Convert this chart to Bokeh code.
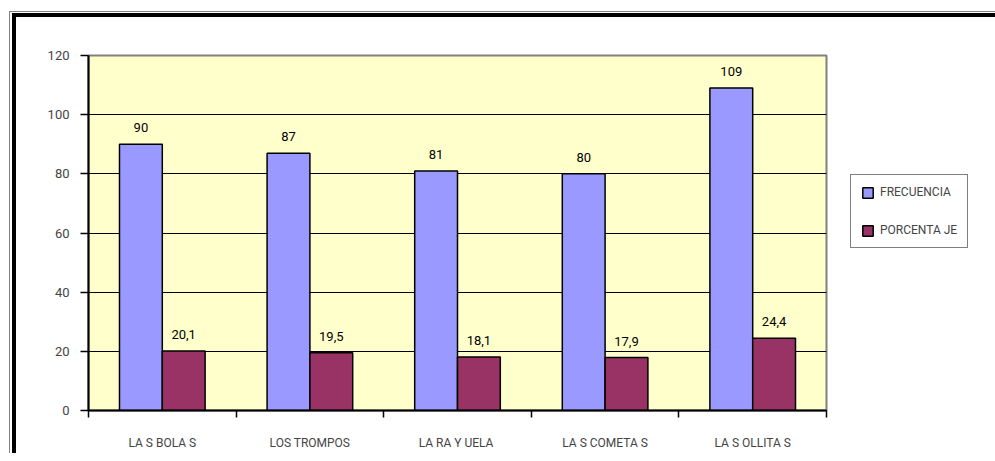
from bokeh.plotting import figure
from bokeh.layouts import column
from bokeh.core.properties import value
from bokeh.models import ColumnDataSource, FixedTicker, Range1d, Legend, LegendItem, LabelSet
from bokeh.transform import dodge
from bokeh.embed import file_html
from bokeh.resources import INLINE

categories = ["LA S BOLA S", "LOS TROMPOS", "LA  RA Y UELA", "LA S COMETA S", "LA S OLLITA S"]
frecuencia = [90, 87, 81, 80, 109]
porcentaje = [20.1, 19.5, 18.1, 17.9, 24.4]
y_ticks = [0, 20, 40, 60, 80, 100, 120]

FONT = "Roboto"

xs = [i + 0.5 for i in range(len(categories))]
src = ColumnDataSource(dict(
    x=xs, frec=frecuencia, porc=porcentaje,
    frec_lbl=[str(v) for v in frecuencia],
    porc_lbl=[("%.1f" % v).replace(".", ",") for v in porcentaje],
))

p = figure(frame_width=738, frame_height=355, min_border_left=72, min_border_top=38,
           min_border_bottom=43, min_border_right=169,
           x_range=Range1d(0, 5), y_range=Range1d(0, 120),
           output_backend="svg", toolbar_location=None, background_fill_color="#FFFFCC",
           border_fill_color="white")

p.outline_line_color = "#808080"
p.outline_line_width = 2

b1 = p.vbar(x=dodge("x", -0.145, range=p.x_range), top="frec", width=0.29, source=src,
            fill_color="#9999FF", line_color="black", line_width=1.5)
b2 = p.vbar(x=dodge("x", 0.145, range=p.x_range), top="porc", width=0.29, source=src,
            fill_color="#993366", line_color="black", line_width=1.5)

for col, lbl, off in (("frec", "frec_lbl", -0.145), ("porc", "porc_lbl", 0.145)):
    p.add_layout(LabelSet(x=dodge("x", off, range=p.x_range), y=col, text=lbl, source=src,
                          text_align="center", text_baseline="bottom", y_offset=12,
                          text_font=value(FONT), text_font_size="13px", text_color="black"))

p.xgrid.visible = False
p.ygrid.grid_line_color = "black"
p.ygrid.grid_line_width = 1
p.ygrid.ticker = FixedTicker(ticks=y_ticks)

p.yaxis.ticker = FixedTicker(ticks=y_ticks)
p.yaxis.axis_line_color = "black"
p.yaxis.axis_line_width = 2
p.yaxis.major_tick_out = 8
p.yaxis.major_tick_in = 0
p.yaxis.major_tick_line_width = 1.5
p.yaxis.minor_tick_line_color = None
p.yaxis.major_label_standoff = 11
p.yaxis.major_label_text_font = FONT
p.yaxis.major_label_text_font_size = "13px"

p.xaxis.ticker = FixedTicker(ticks=xs, minor_ticks=[0, 1, 2, 3, 4, 5])
p.xaxis.major_label_overrides = {x: c for x, c in zip(xs, categories)}
p.xaxis.major_tick_line_color = None
p.xaxis.minor_tick_out = 7
p.xaxis.minor_tick_in = 0
p.xaxis.minor_tick_line_color = "black"
p.xaxis.minor_tick_line_width = 1.5
p.xaxis.axis_line_color = "black"
p.xaxis.axis_line_width = 2
p.xaxis.major_label_standoff = 18
p.xaxis.major_label_text_font = FONT
p.xaxis.major_label_text_font_size = "12px"

legend = Legend(items=[LegendItem(label="FRECUENCIA", renderers=[b1]),
                       LegendItem(label="PORCENTA JE", renderers=[b2])],
                location=(24, 162), orientation="vertical",
                border_line_color="black", border_line_width=1.5,
                background_fill_color="white", background_fill_alpha=1,
                label_text_font=FONT, label_text_font_size="12px",
                glyph_width=13, glyph_height=13, spacing=24, padding=10, margin=0,
                label_standoff=6)
p.add_layout(legend, "right")

inner = column(p, styles={"border-left": "4px solid black", "border-top": "4px solid black"})
outer = column(inner, styles={"margin-left": "9px", "margin-top": "11px",
                              "border-left": "1px solid #808080", "border-top": "1px solid #808080",
                              "padding-left": "2px", "padding-top": "1px"})

open("out.html", "w").write(file_html(outer, INLINE))
